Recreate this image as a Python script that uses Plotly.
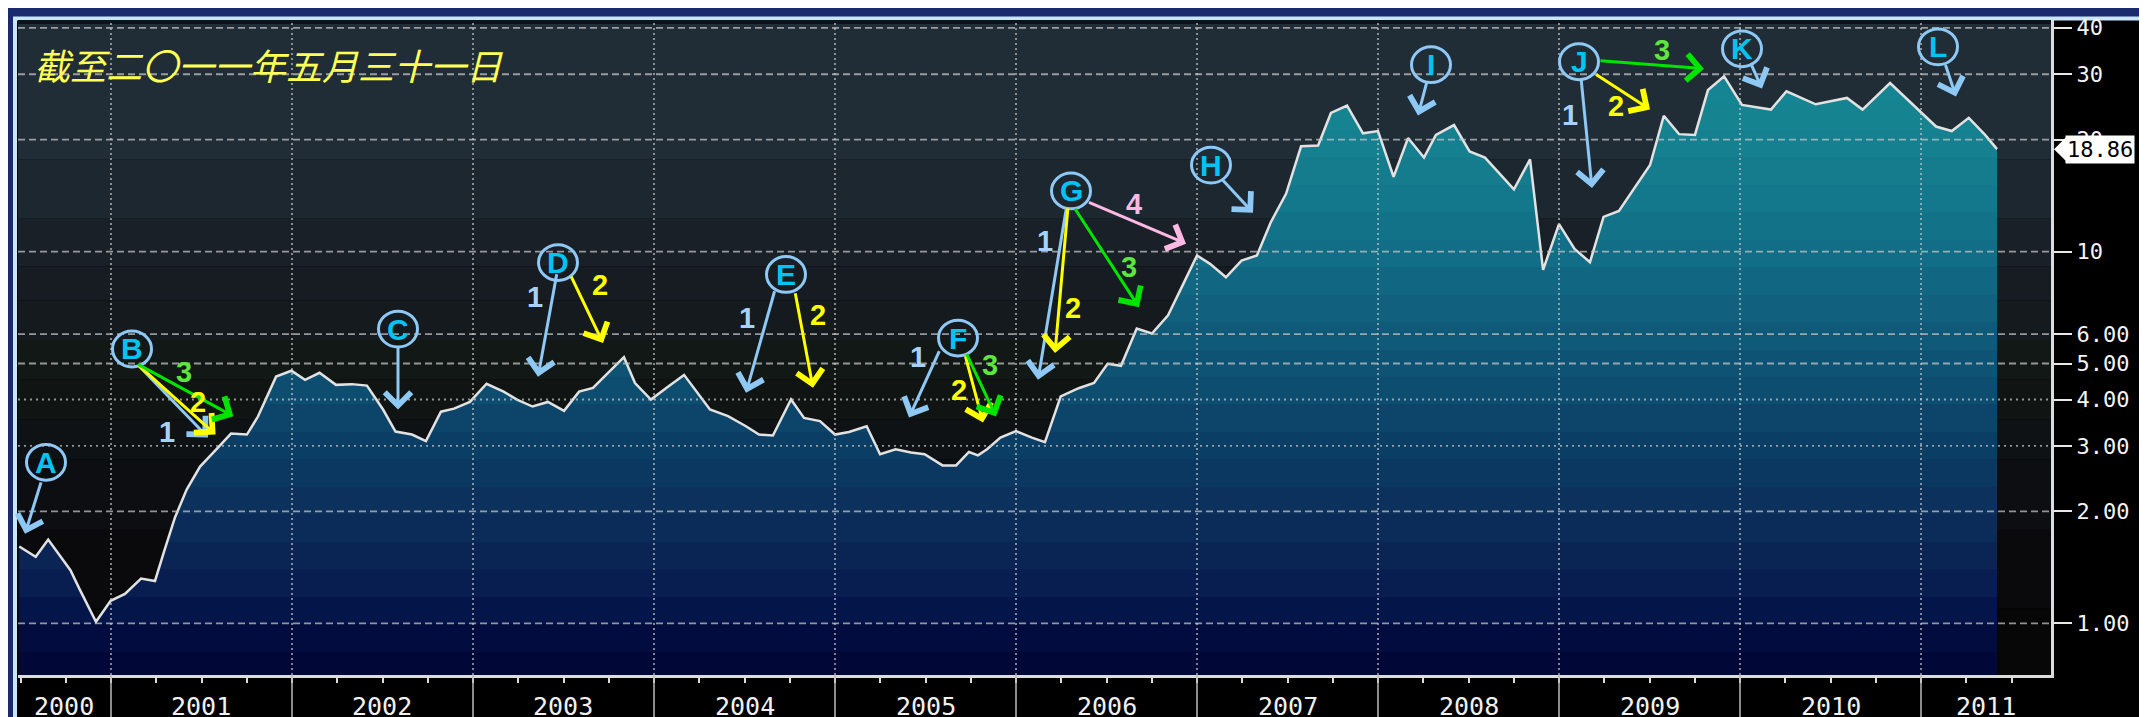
import math
import plotly.graph_objects as go

# ---------------- data ----------------
# time in decimal years, value (log scale)
times = [2000.493, 2000.584, 2000.653, 2000.776, 2000.825, 2000.917, 2000.998, 2001.077, 2001.166, 2001.243,
         2001.293, 2001.354, 2001.418, 2001.492, 2001.591, 2001.663, 2001.751, 2001.812, 2001.912, 2001.997,
         2002.072, 2002.152, 2002.243, 2002.331, 2002.414, 2002.503, 2002.572, 2002.663, 2002.740, 2002.823,
         2002.895, 2002.983, 2003.075, 2003.169, 2003.243, 2003.329, 2003.414, 2003.503, 2003.586, 2003.663,
         2003.746, 2003.834, 2003.895, 2003.983, 2004.077, 2004.166, 2004.309, 2004.409, 2004.508, 2004.580,
         2004.657, 2004.757, 2004.829, 2004.917, 2005.000, 2005.077, 2005.175, 2005.249, 2005.335, 2005.420,
         2005.495, 2005.594, 2005.669, 2005.740, 2005.790, 2005.840, 2005.914, 2006.000, 2006.088, 2006.160,
         2006.247, 2006.346, 2006.431, 2006.506, 2006.580, 2006.667, 2006.751, 2006.840, 2006.925, 2007.000,
         2007.072, 2007.160, 2007.246, 2007.331, 2007.407, 2007.492, 2007.575, 2007.669, 2007.740, 2007.829,
         2007.917, 2008.000, 2008.086, 2008.166, 2008.254, 2008.320, 2008.420, 2008.506, 2008.591, 2008.751,
         2008.840, 2008.912, 2009.000, 2009.086, 2009.171, 2009.246, 2009.331, 2009.503, 2009.579, 2009.663,
         2009.751, 2009.823, 2009.912, 2010.011, 2010.171, 2010.257, 2010.418, 2010.591, 2010.677, 2010.829,
         2011.083, 2011.170, 2011.264, 2011.354, 2011.420]
values = [1.61, 1.51, 1.68, 1.39, 1.24, 1.01, 1.15, 1.20, 1.32, 1.30,
          1.56, 1.93, 2.29, 2.64, 2.97, 3.24, 3.22, 3.60, 4.61, 4.78,
          4.52, 4.72, 4.38, 4.40, 4.36, 3.76, 3.28, 3.22, 3.09, 3.71,
          3.78, 3.94, 4.41, 4.20, 4.00, 3.83, 3.94, 3.73, 4.20, 4.30,
          4.72, 5.20, 4.43, 4.00, 4.33, 4.66, 3.76, 3.61, 3.39, 3.22,
          3.20, 4.00, 3.57, 3.50, 3.22, 3.27, 3.39, 2.85, 2.94, 2.88,
          2.85, 2.66, 2.66, 2.89, 2.83, 2.94, 3.16, 3.29, 3.16, 3.07,
          4.08, 4.29, 4.43, 4.99, 4.93, 6.21, 6.02, 6.74, 8.20, 9.76,
          9.27, 8.53, 9.46, 9.76, 11.98, 14.3, 19.2, 19.3, 23.6, 24.7,
          20.8, 21.1, 15.9, 20.2, 17.9, 20.6, 21.9, 18.6, 17.9, 14.7,
          17.7, 8.93, 11.86, 10.17, 9.36, 12.4, 12.87, 17.1, 23.2, 20.7,
          20.6, 27.2, 29.6, 24.8, 24.1, 27.0, 24.9, 25.9, 24.1, 28.4,
          21.7, 21.1, 22.9, 20.6, 18.86]

y_tick_vals = [1, 2, 3, 4, 5, 6, 10, 20, 30, 40]
y_tick_text = ["1.00", "2.00", "3.00", "4.00", "5.00", "6.00", "10", "20", "30", "40"]
year_labels = [str(y) for y in range(2000, 2012)]
last_label = "18.86"
title_text = "截至二〇一一年五月三十一日"

# ---------------- layout geometry ----------------
W, H = 2147, 717
PL, PR, PT, PB = 10, 2043, 8, 667          # plot area in pixels
XLO, XHI = 2000.4862, 2011.7182
YLO, YHI = -0.1390, 1.6230                  # log10 range


def PX(p):
    return (p - PL) / (PR - PL)


def PY(p):
    return (PB - p) / (PB - PT)


def xfrac(t):
    return (t - XLO) / (XHI - XLO)


def yfrac(v):
    return (math.log10(v) - YLO) / (YHI - YLO)


def interp(keys, f):
    for (f0, c0), (f1, c1) in zip(keys[:-1], keys[1:]):
        if f0 <= f <= f1:
            a = (f - f0) / (f1 - f0) if f1 > f0 else 0
            return tuple(round(c0[i] + a * (c1[i] - c0[i])) for i in range(3))
    return keys[-1][1]


def rgb(c):
    return "rgb(%d,%d,%d)" % c


# area fill gradient (bottom -> top), stepped bands
area_keys = [(0.00, (1, 6, 50)), (0.05, (1, 9, 60)), (0.10, (4, 20, 72)), (0.16, (9, 32, 82)),
             (0.25, (11, 46, 90)), (0.34, (11, 60, 98)), (0.44, (13, 77, 111)), (0.53, (15, 91, 122)),
             (0.62, (17, 106, 132)), (0.71, (19, 118, 138)), (0.80, (21, 127, 143)),
             (0.89, (22, 133, 147)), (1.00, (24, 138, 150))]
NB = 24
area_cs = []
for i in range(NB):
    c = rgb(interp(area_keys, (i + 0.5) / NB))
    area_cs.append([i / NB, c])
    area_cs.append([(i + 1) / NB, c])

# plot background bands (pixel top, pixel bottom, colour)
bg_bands = [(8, 12, "#0e1317"), (12, 148, "#212d36"), (148, 208, "#1c2730"), (208, 256, "#1a2028"),
            (256, 290, "#171c22"), (290, 330, "#141a1d"), (330, 370, "#121815"), (370, 410, "#101513"),
            (410, 450, "#0f1215"), (450, 520, "#0d0e12"), (520, 600, "#0a0a0c"), (600, 667, "#070707")]

fig = go.Figure()
fig.add_trace(go.Scatter(
    x=times, y=values, mode="lines",
    line=dict(color="#e2e2e2", width=2.5),
    fill="tozeroy",
    fillgradient=dict(type="vertical", colorscale=area_cs, start=10 ** YLO, stop=10 ** YHI),
    hoverinfo="skip", showlegend=False,
))

shapes = []
# frame
shapes.append(dict(type="rect", xref="paper", yref="paper", layer="below",
                   x0=PX(7), x1=PX(2145.5), y0=PY(716), y1=PY(6.5),
                   fillcolor="#000000", line=dict(color="#c8e6fb", width=4)))
for top, bot, col in bg_bands:
    shapes.append(dict(type="rect", xref="paper", yref="paper", layer="below",
                       x0=0, x1=1, y0=PY(bot), y1=PY(top), fillcolor=col, line=dict(width=0)))

grid_col = "rgba(200,200,200,0.72)"
for v in y_tick_vals:
    dash = "2px,4px" if v in (3, 4) else "7px,4px"
    shapes.append(dict(type="line", xref="paper", yref="paper", layer="above",
                       x0=0, x1=1, y0=yfrac(v), y1=yfrac(v), line=dict(color=grid_col, width=1.8, dash=dash)))
for yr in range(2001, 2012):
    xf = xfrac(yr)
    shapes.append(dict(type="line", xref="paper", yref="paper", layer="above",
                       x0=xf, x1=xf, y0=0, y1=1, line=dict(color=grid_col, width=1.8, dash="2px,3px")))
    shapes.append(dict(type="line", xref="paper", yref="paper", layer="above",
                       x0=xf, x1=xf, y0=0, y1=PY(716), line=dict(color="#bcbcbc", width=1.5)))

# circled letter markers (pixel centres)
markers = [("A", 38, 453), ("B", 124, 339), ("C", 390, 319), ("D", 550, 252), ("E", 778, 264),
           ("F", 950, 328), ("G", 1063, 180), ("H", 1203, 154), ("I", 1423, 53), ("J", 1571, 50),
           ("K", 1734, 37), ("L", 1930, 35)]
LB = "#8ec8f4"
for _, cx, cy in markers:
    shapes.append(dict(type="circle", xref="paper", yref="paper", layer="above",
                       x0=PX(cx - 19.5), x1=PX(cx + 19.5), y0=PY(cy + 18), y1=PY(cy - 18),
                       line=dict(color=LB, width=3)))

# last value pointer
ly = yfrac(18.86) * (PB - PT)
shapes.append(dict(type="path", xref="paper", yref="paper", layer="above",
                   path="M %f %f L %f %f L %f %f Z" % (PX(2046), yfrac(18.86), PX(2058), PY(PB - ly - 12),
                                                       PX(2058), PY(PB - ly + 12)),
                   fillcolor="#ffffff", line=dict(width=0)))

annotations = []
annotations.append(dict(xref="paper", yref="paper", x=PX(24), y=PY(52), xanchor="left", yanchor="middle",
                        text=title_text, showarrow=False,
                        font=dict(family="Noto Sans CJK SC", size=36, color="#ffff55", style="italic")))
for i, lab in enumerate(year_labels):
    a = max(2000 + i, XLO)
    b = min(2001 + i, XHI)
    annotations.append(dict(xref="paper", yref="paper", x=xfrac((a + b) / 2), y=PY(715),
                            xanchor="center", yanchor="bottom", text=lab, showarrow=False,
                            font=dict(family="DejaVu Sans Mono", size=25, color="#f0f0f0")))
for lab, cx, cy in markers:
    annotations.append(dict(xref="paper", yref="paper", x=PX(cx), y=PY(cy), xanchor="center",
                            yanchor="middle", text="<b>%s</b>" % lab, showarrow=False,
                            font=dict(family="Liberation Sans", size=30, color="#00c4f2")))

YEL, GRN, PNK = "#ffff00", "#00e400", "#ffb8e4"
arrows = [((33.5, 472), (17, 525), LB),
          ((128.6, 354), (200, 428), LB), ((128.6, 354), (207.6, 425), YEL), ((128.6, 354), (225.4, 406.7), GRN),
          ((390, 337), (390, 400), LB),
          ((549, 263), (530, 367), LB), ((562.5, 265), (595, 333), YEL),
          ((767, 280), (738, 383), LB), ((787, 282), (805, 378), YEL),
          ((932, 340), (901, 408), LB), ((957, 345), (975, 413), YEL), ((958, 343), (988, 407), GRN),
          ((1058.6, 197), (1030, 370), LB), ((1060, 197), (1047, 343), YEL),
          ((1066, 197), (1131, 297), GRN), ((1079.5, 191), (1178, 233), PNK),
          ((1213.5, 168), (1245, 202), LB),
          ((1419, 70), (1410, 104), LB),
          ((1573, 67), (1584, 177), LB), ((1586.6, 62), (1642, 98), YEL), ((1591, 49), (1696, 57), GRN),
          ((1742, 50), (1754, 77), LB),
          ((1937, 52), (1948, 85), LB)]
for (tx, ty), (hx, hy), col in arrows:
    annotations.append(dict(xref="paper", yref="paper", x=PX(hx), y=PY(hy), text="", showarrow=True,
                            ax=tx - hx, ay=ty - hy, axref="pixel", ayref="pixel",
                            arrowhead=4, arrowsize=1.7, arrowwidth=3, arrowcolor=col, standoff=0))

nums = [("3", 176, 362, "#5ee63c"), ("2", 190, 392, YEL), ("1", 158.5, 423, "#a6d2fa"),
        ("1", 527, 287, "#a6d2fa"), ("2", 591.5, 275, YEL),
        ("1", 739, 308, "#a6d2fa"), ("2", 809.5, 305, YEL),
        ("1", 910, 347, "#a6d2fa"), ("2", 951, 380, YEL), ("3", 982, 355, "#5ee63c"),
        ("1", 1037, 230, "#a6d2fa"), ("2", 1065, 298, YEL), ("3", 1121, 257, "#5ee63c"), ("4", 1126, 193, PNK),
        ("1", 1562, 104, "#a6d2fa"), ("2", 1608, 95, YEL), ("3", 1653.6, 38, "#5ee63c")]
for t, cx, cy, col in nums:
    annotations.append(dict(xref="paper", yref="paper", x=PX(cx), y=PY(cy), xanchor="center",
                            yanchor="middle", text="<b>%s</b>" % t, showarrow=False,
                            font=dict(family="Liberation Sans", size=29, color=col)))

annotations.append(dict(xref="paper", yref="paper", x=PX(2057), y=yfrac(18.86), xanchor="left",
                        yanchor="middle", text=last_label, showarrow=False, bgcolor="#ffffff",
                        borderpad=1, font=dict(family="DejaVu Sans Mono", size=22, color="#000000")))

fig.update_layout(
    width=W, height=H,
    margin=dict(l=PL, r=W - PR, t=PT, b=H - PB, pad=0),
    paper_bgcolor="#1b2a6c", plot_bgcolor="rgba(0,0,0,0)",
    showlegend=False,
    shapes=shapes, annotations=annotations,
    xaxis=dict(type="linear", range=[XLO, XHI], showgrid=False, zeroline=False,
               showline=True, linecolor="#dcdcdc", linewidth=3,
               ticks="outside", tick0=2001, dtick=0.25, ticklen=5, tickwidth=2, tickcolor="#dcdcdc",
               showticklabels=False),
    yaxis=dict(type="log", range=[YLO, YHI], side="right", showgrid=False, zeroline=False,
               showline=True, linecolor="#dcdcdc", linewidth=3,
               tickvals=y_tick_vals, ticktext=y_tick_text,
               ticks="outside", ticklen=18, tickwidth=2, tickcolor="#e8e8e8",
               tickfont=dict(family="DejaVu Sans Mono", size=22, color="#f4f4f4")),
)

fig.write_html("out.html")
